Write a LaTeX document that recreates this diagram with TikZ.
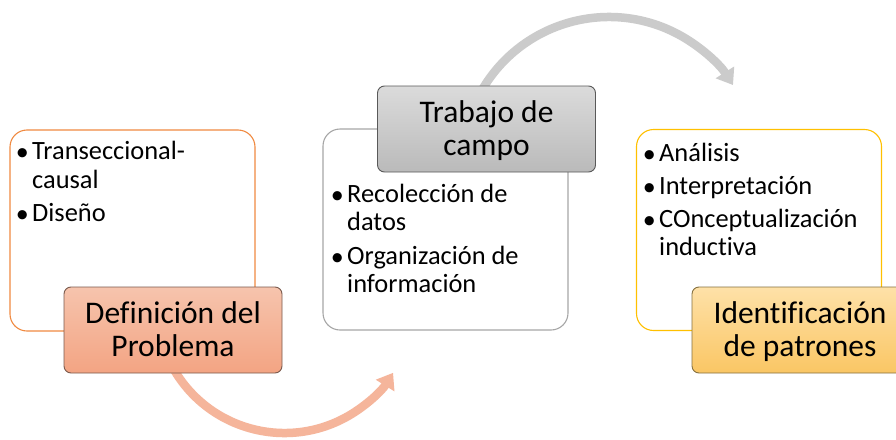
\documentclass[tikz,border=0pt]{standalone}
\usepackage{fontspec}
\setmainfont[Ligatures=CommonOff]{Carlito}
\usetikzlibrary{arrows.meta,backgrounds}
\definecolor{borange}{HTML}{F08A41}
\definecolor{bgray}{HTML}{A6A6A6}
\definecolor{byellow}{HTML}{FFC000}
\definecolor{t1top}{HTML}{F6C4AD}
\definecolor{t1bot}{HTML}{F3A483}
\definecolor{t1line}{HTML}{7A5A4D}
\definecolor{t2top}{HTML}{DBDBDB}
\definecolor{t2bot}{HTML}{BABABA}
\definecolor{t2line}{HTML}{595959}
\definecolor{t3top}{HTML}{FEE1A8}
\definecolor{t3bot}{HTML}{FAC664}
\definecolor{t3line}{HTML}{85703F}
\definecolor{arrA}{HTML}{F5B59B}
\definecolor{arrB}{HTML}{CBCBCB}
\tikzset{
  contentbox/.style={draw, fill=white, rounded corners=17pt, line width=1.1pt,
    minimum width=245pt, minimum height=201pt, inner sep=0pt},
  titlebox/.style={draw, rounded corners=7pt, line width=0.9pt,
    minimum width=218pt, minimum height=86pt, inner sep=0pt},
  itemtext/.style={font=\fontsize{26.4}{28}\selectfont, anchor=base west, inner sep=0pt},
  itemmark/.style={font=\fontsize{26}{28}\selectfont, anchor=base east, inner sep=0pt, yshift=-1pt},
  titletext/.style={font=\fontsize{31.5}{33}\selectfont, anchor=base, inner sep=0pt},
  flowarrow/.style={line width=8.5pt, -{Triangle[width=21pt,length=15pt]}}
}
\begin{document}
\begin{tikzpicture}[x=1pt,y=-1pt]
\useasboundingbox (0,0) rectangle (896,439);
\clip (0,0) rectangle (896,439);

% content boxes
\node[contentbox, draw=borange] (b1) at (132.5,230.5) {};
\node[contentbox, draw=bgray]   (b2) at (445.5,229.5) {};
\node[contentbox, draw=byellow] (b3) at (759,230) {};

% title boxes
\node[titlebox, draw=t1line, top color=t1top, bottom color=t1bot] (t1) at (173,330) {};
\node[titlebox, draw=t2line, top color=t2top, bottom color=t2bot] (t2) at (486.5,129) {};
\node[titlebox, draw=t3line, top color=t3top, bottom color=t3bot] (t3) at (801,330) {};

% title texts
\node[titletext] (t1a) at (173,323) {Definición del};
\node[titletext] (t1b) at (173,356) {Problema};
\node[titletext] (t2a) at (486.5,122.5) {Trabajo de};
\node[titletext] (t2b) at (486.5,155.5) {campo};
\node[titletext] (t3a) at (800,323) {Identificación};
\node[titletext] (t3b) at (800,356) {de patrones};

% box 1 items
\node[itemmark] (m11) at (29,159) {•};
\node[itemtext] (i11) at (32,159) {Transeccional-};
\node[itemtext] (i12) at (32,188) {causal};
\node[itemmark] (m12) at (29,221) {•};
\node[itemtext] (i13) at (32,221) {Diseño};

% box 2 items
\node[itemmark] (m21) at (344,202) {•};
\node[itemtext] (i21) at (347,202) {Recolección de};
\node[itemtext] (i22) at (347,230) {datos};
\node[itemmark] (m22) at (344,264) {•};
\node[itemtext] (i23) at (347,264) {Organización de};
\node[itemtext] (i24) at (347,292) {información};

% box 3 items
\node[itemmark] (m31) at (656,161) {•};
\node[itemtext] (i31) at (659,161) {Análisis};
\node[itemmark] (m32) at (656,194) {•};
\node[itemtext] (i32) at (659,194) {Interpretación};
\node[itemmark] (m33) at (656,227) {•};
\node[itemtext] (i33) at (659,227) {COnceptualización};
\node[itemtext] (i34) at (659,255) {inductiva};

% curved arrows
\coordinate (a1s) at (173.65,369);
\coordinate (a2s) at (481.7,90.5);
\begin{scope}[on background layer]
\fill[white] (0,0) rectangle (896,439);
\draw[flowarrow, draw=arrA] (a1s) arc[start angle=150, end angle=32, radius=128];
\draw[flowarrow, draw=arrB] (a2s) arc[start angle=210, end angle=327.5, radius=147];
\end{scope}
\end{tikzpicture}
\end{document}
